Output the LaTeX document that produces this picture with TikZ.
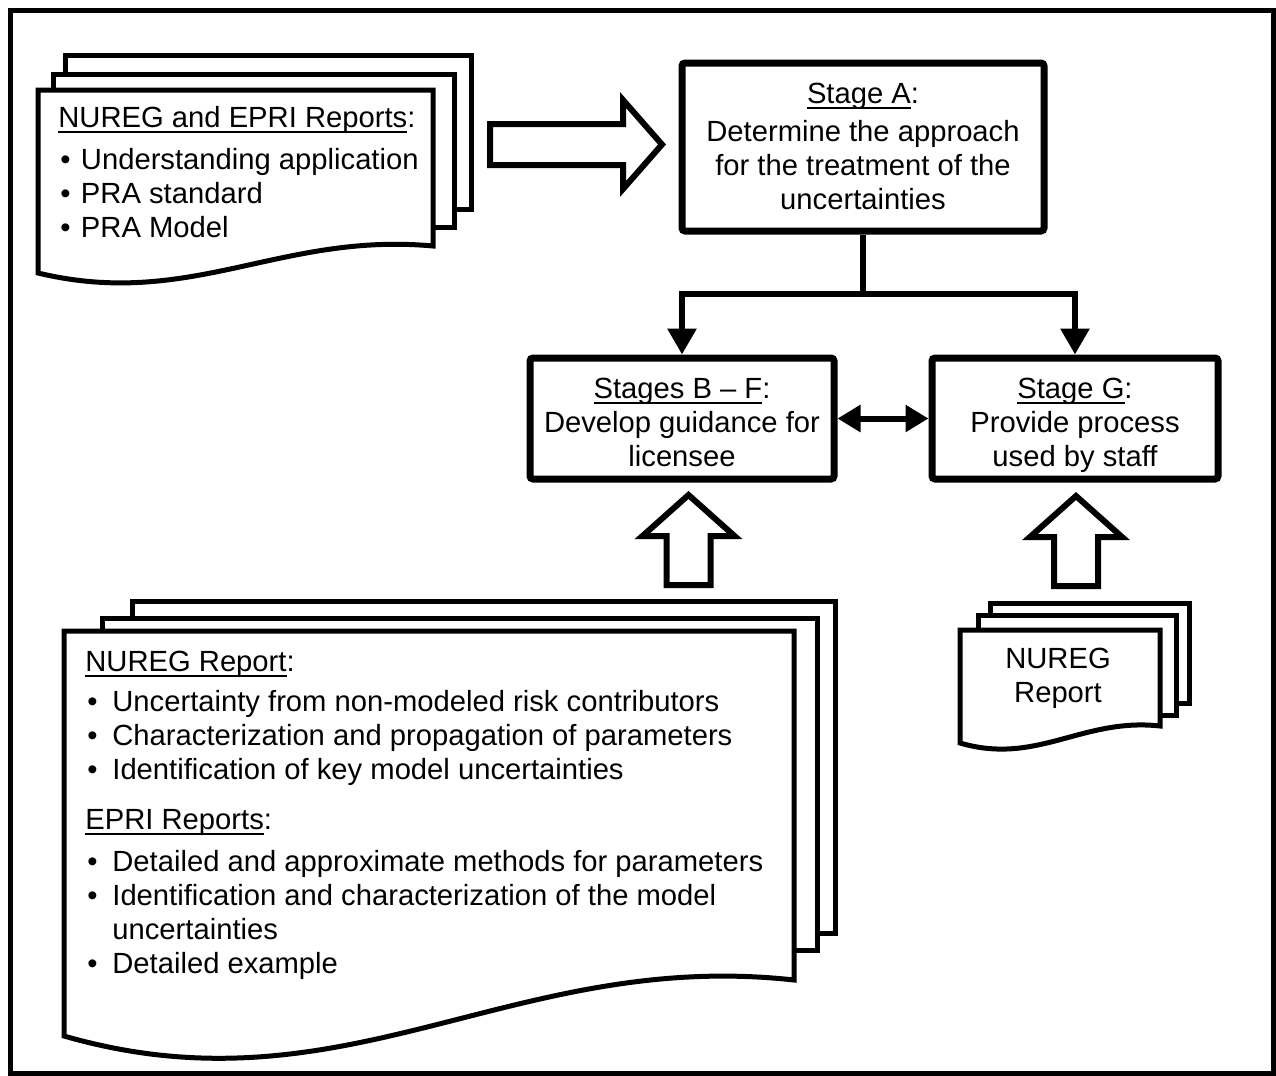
\documentclass[tikz,border=0pt]{standalone}
\usepackage{fontspec}
\setmainfont{Liberation Sans}
\usetikzlibrary{arrows.meta}

% underline at a fixed depth below the baseline
\newcommand\ulw[1]{\setbox0\hbox{#1}\rlap{\rule[-3pt]{\wd0}{1pt}}\box0}
% bullet in a box of the given width
\newcommand\bul[1]{\makebox[#1][l]{\hspace{1pt}\textbullet}}

% document page with a wavy bottom edge: left, top, right, bottom-left, bottom-right
\newcommand\docpage[5]{%
  \pgfmathsetmacro\dW{#3-#1}%
  \pgfmathsetmacro\dH{#4-#2}%
  \draw[docline] (#1,#2) -- (#3,#2) -- (#3,#5)
    .. controls ({#1+0.613*\dW},{#5-0.077*\dH}) and ({#1+0.385*\dW},{#4+0.2*\dH}) .. (#1,#4) -- cycle;}

% hollow block arrow pointing up: centre x, tip y
\newcommand\uparrowshape[2]{%
  \draw[blockarrow] (#1,#2) -- ++(46,41) -- ++(-24,0) -- ++(0,49) -- ++(-44,0)
    -- ++(0,-49) -- ++(-24,0) -- cycle;}

\begin{document}
\begin{tikzpicture}[x=0.5pt,y=-0.5pt,
  docline/.style={line width=2.5pt, fill=white, line join=miter},
  blockarrow/.style={line width=3pt, fill=white, line join=miter},
  stagebox/.style={draw, line width=3.5pt, rounded corners=1.5pt, fill=white, inner sep=0pt},
  conn/.style={line width=3pt},
  txt/.style={font=\fontsize{14.6}{17}\selectfont, inner sep=0pt},
  tip/.style={-{Triangle[width=14pt,length=13pt]}}]

\useasboundingbox (0,0) rectangle (1276,1076);
\fill[white] (0,0) rectangle (1276,1076);

% outer frame
\draw[line width=2.5pt] (10.5,10.5) rectangle (1273,1073);

% input documents (top left)
\draw[docline] (65,55) rectangle (471,209);
\draw[docline] (53,74) rectangle (454,227);
\docpage{38}{90}{433}{273}{246}
\node[txt, anchor=base west, align=left] (topdoc) at (58,237)
  {\ulw{NUREG and EPRI Reports}:\\[4pt]
   \bul{11.3pt}Understanding application\\
   \bul{11.3pt}PRA standard\\
   \bul{11.3pt}PRA Model};

% block arrow into stage A
\draw[blockarrow] (490,124) -- (623,124) -- (623,100) -- (662,144.5) -- (623,189)
  -- (623,165) -- (490,165) -- cycle;

% stages
\node[stagebox, minimum width=181pt, minimum height=84pt] (StageA) at (863,147) {};
\node[txt, anchor=base, align=center] (textA) at (863,209)
  {\ulw{Stage A}:\\[2pt]Determine the approach\\for the treatment of the\\uncertainties};

\node[stagebox, minimum width=152pt, minimum height=60.5pt] (StageBF) at (682,418.5) {};
\node[txt, anchor=base, align=center] (textBF) at (682,466)
  {\ulw{Stages B -- F}:\\Develop guidance for\\licensee};

\node[stagebox, minimum width=143pt, minimum height=60.5pt] (StageG) at (1075,418.5) {};
\node[txt, anchor=base, align=center] (textG) at (1075,466)
  {\ulw{Stage G}:\\Provide process\\used by staff};

% connectors
\coordinate (split) at (863,294);
\draw[conn] (StageA.south) -- (split);
\draw[conn, tip] (split) -| (StageBF.north);
\draw[conn, tip] (split) -| (StageG.north);
\draw[conn, {Triangle[width=13pt,length=11.5pt]}-{Triangle[width=13pt,length=11.5pt]}]
  (StageBF.east) -- (StageG.west);

% block arrows from the lower documents
\uparrowshape{688.5}{495}
\uparrowshape{1076}{496}

% guidance documents (bottom left)
\draw[docline] (132,601) rectangle (835,933);
\draw[docline] (102,618) rectangle (817,950);
\docpage{64}{631}{794}{1036}{980}
\node[txt, anchor=base west, align=left] (botdoc) at (85,973)
  {\ulw{NUREG Report}:\\[3pt]
   \bul{13.5pt}Uncertainty from non-modeled risk contributors\\
   \bul{13.5pt}Characterization and propagation of parameters\\
   \bul{13.5pt}Identification of key model uncertainties\\[8pt]
   \ulw{EPRI Reports}:\\[4pt]
   \bul{13.5pt}Detailed and approximate methods for parameters\\
   \bul{13.5pt}Identification and characterization of the model\\
   \hspace*{13.5pt}uncertainties\\
   \bul{13.5pt}Detailed example};

% staff process document (bottom right)
\draw[docline] (990,603) rectangle (1189,703);
\draw[docline] (978,615) rectangle (1176,715);
\docpage{960}{630}{1160}{743}{726}
\node[txt, anchor=base, align=center] (smalldoc) at (1058,702) {NUREG\\Report};

\end{tikzpicture}
\end{document}
